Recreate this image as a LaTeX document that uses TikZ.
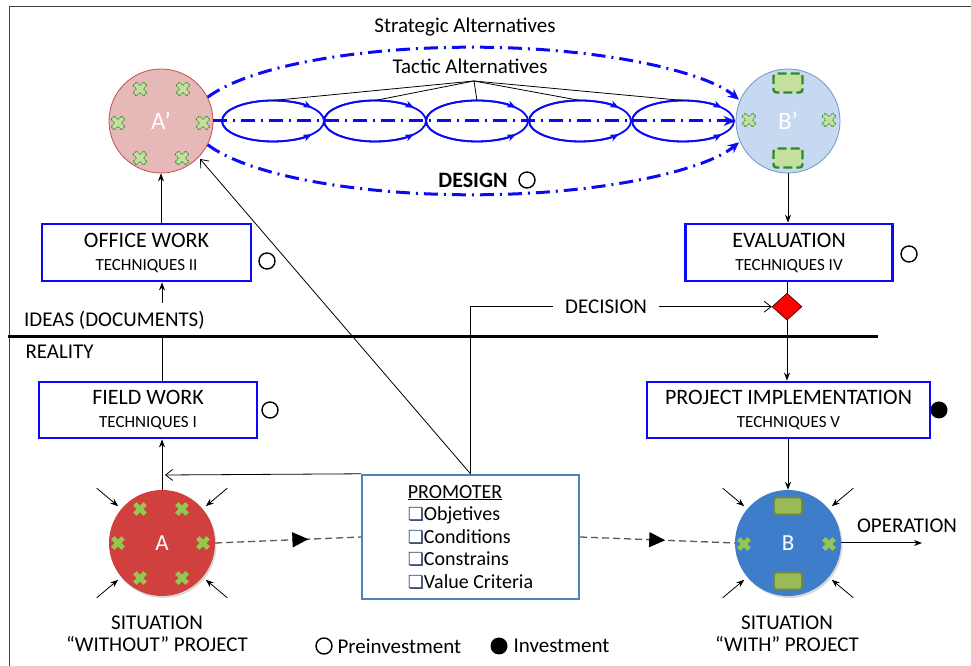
\documentclass[tikz,border=0pt]{standalone}
\usepackage{fontspec}
\setmainfont{Carlito}
\newfontfamily\symfont{DejaVu Sans}
\usetikzlibrary{arrows,arrows.meta,positioning,shapes.geometric,shadows,decorations.markings}

\definecolor{boxblue}{HTML}{0A0AF5}
\definecolor{promblue}{HTML}{4F81BD}
\definecolor{pinkfill}{HTML}{E6B9B8}
\definecolor{pinkline}{HTML}{C0504D}
\definecolor{skyfill}{HTML}{C6D9F1}
\definecolor{skyline}{HTML}{7096C8}
\definecolor{redfill}{HTML}{D0403E}
\definecolor{bluefill}{HTML}{3D7DCA}
\definecolor{leaf}{HTML}{92C850}
\definecolor{paleleaf}{HTML}{C4E09E}
\definecolor{darkleaf}{HTML}{2C8A2C}
\definecolor{olive}{HTML}{71893F}
\definecolor{oliveleaf}{HTML}{9BBB59}
\definecolor{navy}{HTML}{1F3864}
\definecolor{dashgray}{HTML}{595959}

\tikzstyle{techbox}=[draw=boxblue,line width=2.8pt,fill=white,align=center,inner sep=0pt,font=\fontsize{17}{23}\selectfont]
\tikzstyle{promoter}=[draw=promblue,line width=2.4pt,fill=white,align=left,inner sep=0pt,minimum width=217pt,minimum height=124pt,font=\fontsize{20}{22.5}\selectfont]
\tikzstyle{ideaA}=[circle,minimum size=104pt,inner sep=0pt,fill=pinkfill,draw=pinkline,line width=0.8pt,text=white,font=\fontsize{25}{25}\selectfont]
\tikzstyle{ideaB}=[circle,minimum size=104pt,inner sep=0pt,fill=skyfill,draw=skyline,line width=0.8pt,text=white,font=\fontsize{25}{25}\selectfont]
\tikzstyle{sitA}=[circle,minimum size=106pt,inner sep=0pt,fill=redfill,text=white,font=\fontsize{23}{23}\selectfont,drop shadow={opacity=0.3,shadow xshift=1.5pt,shadow yshift=-2pt}]
\tikzstyle{sitB}=[circle,minimum size=106pt,inner sep=0pt,fill=bluefill,text=white,font=\fontsize{23}{23}\selectfont,drop shadow={opacity=0.3,shadow xshift=1.5pt,shadow yshift=-2pt}]
\tikzstyle{tactic}=[ellipse,draw=boxblue,line width=1.8pt,minimum width=102pt,minimum height=41pt,inner sep=0pt,outer sep=0pt]
\tikzstyle{tacline}=[draw=boxblue,line width=1.8pt,-{Stealth[length=9pt,width=7pt]}]
\tikzstyle{stratline}=[draw=boxblue,line width=3pt,dash pattern=on 14pt off 6pt on 2pt off 6pt]
\tikzstyle{fanline}=[line width=0.8pt]
\tikzstyle{openarr}=[line width=0.8pt,-{Straight Barb[length=7pt,width=11pt]}]
\tikzstyle{dashline}=[draw=dashgray,line width=1.3pt,dash pattern=on 7pt off 4pt]
\tikzstyle{preinv}=[circle,draw,line width=1.4pt,minimum size=16pt,inner sep=0pt]
\tikzstyle{inv}=[circle,fill,minimum size=17pt,inner sep=0pt]
\tikzstyle{decision}=[diamond,fill=red,draw,line width=0.5pt,minimum width=30pt,minimum height=27pt,inner sep=0pt]
\tikzstyle{softx}=[fill=paleleaf,draw=darkleaf,line width=0.8pt,dash pattern=on 1.5pt off 1pt]
\tikzstyle{solidx}=[fill=leaf]
\tikzstyle{softbar}=[rectangle,rounded corners=3pt,fill=paleleaf,draw=darkleaf,line width=2.4pt,dash pattern=on 9pt off 4pt,minimum width=29pt,minimum height=19pt,inner sep=0pt]
\tikzstyle{solidbar}=[rectangle,rounded corners=3pt,fill=oliveleaf,draw=olive,line width=1.8pt,minimum width=28pt,minimum height=17pt,inner sep=0pt]
\tikzset{xmark/.pic={
  \path[pic actions,rotate=45] (-2.4,7.4) -- (2.4,7.4) -- (2.4,2.4) -- (7.4,2.4) -- (7.4,-2.4) -- (2.4,-2.4)
    -- (2.4,-7.4) -- (-2.4,-7.4) -- (-2.4,-2.4) -- (-7.4,-2.4) -- (-7.4,2.4) -- (-2.4,2.4) -- cycle;
}}
\tikzset{mid tri/.style={postaction={decorate},decoration={markings,
  mark=at position #1 with {\arrow[black]{Triangle[length=16pt,width=15pt]}}}}}

\newcommand{\chk}{{\symfont\fontsize{18}{18}\selectfont\color{navy}❏}}
\newcommand{\boxtext}[2]{{\fontsize{22}{23}\selectfont #1}\\{#2}}

\begin{document}
\begin{tikzpicture}[x=1pt,y=1pt,>={Stealth[length=8pt,width=6pt]},font=\fontsize{21}{22}\selectfont]
  \useasboundingbox (0,0) rectangle (971,666);
  \draw[black!75,line width=1pt] (9,0) -- (9,659) -- (971,659);

  % ideas (top)
  \node[ideaA] (Ap) at (161,545) {A’};
  \node[ideaB] (Bp) at (788,545) {B’};
  \foreach \s in {{(-21,32)},{(22,32)},{(-43,-2)},{(42,-2)},{(-21,-37)},{(21,-37)}}
    \pic[softx] at ([shift=\s]Ap) {xmark};
  \foreach \s in {{(-39,1)},{(41,1)}}
    \pic[softx] at ([shift=\s]Bp) {xmark};
  \node[softbar] (bpU) at ([yshift=38pt]Bp) {};
  \node[softbar] (bpD) at ([yshift=-37pt]Bp) {};

  % strategic and tactic alternatives
  \draw[stratline,-{Stealth[length=12pt,width=10pt]}] (Ap) -- (Bp);
  \draw[stratline,-{Stealth[length=11pt,width=10pt]}] (Ap.27) arc[start angle=160,end angle=18,x radius=281pt,y radius=76pt];
  \draw[stratline,-{Stealth[length=11pt,width=10pt]}] (Ap.-27) arc[start angle=200,end angle=342,x radius=281pt,y radius=76pt];
  \node (strat) at (465,639) {Strategic Alternatives};
  \node (tact) at (470,600) {Tactic Alternatives};
  \coordinate (fan) at (474,585);
  \foreach \i/\x in {1/273,2/375,3/477,4/580,5/683}{
    \node[tactic] (t\i) at (\x,545) {};
    \draw[tacline] (t\i.west) arc[start angle=180,end angle=40,x radius=51pt,y radius=20.5pt];
    \draw[tacline] (t\i.west) arc[start angle=180,end angle=320,x radius=51pt,y radius=20.5pt];
    \draw[fanline] (fan) -- (t\i.north);
  }
  \node[font=\fontsize{22}{22}\bfseries] (design) at (473,486) {DESIGN};
  \node[preinv] (preD) at (527,486) {};

  % techniques
  \node[techbox,minimum width=209pt,minimum height=57pt] (office) at (146.5,413.5) {\boxtext{OFFICE WORK}{TECHNIQUES II}};
  \node[techbox,minimum width=207pt,minimum height=57pt] (eval) at (789,413.4) {\boxtext{EVALUATION}{TECHNIQUES IV}};
  \node[techbox,minimum width=218pt,minimum height=56pt] (field) at (148,256) {\boxtext{FIELD WORK}{TECHNIQUES I}};
  \node[techbox,minimum width=283pt,minimum height=56pt] (impl) at (788.5,256) {\boxtext{PROJECT IMPLEMENTATION}{TECHNIQUES V}};
  \node[preinv] (preO) at (267,405) {};
  \node[preinv] (preE) at (909,412) {};
  \node[preinv] (preF) at (270,256) {};
  \node[inv] (invI) at (939,256) {};
  \node[decision] (dec) at (787,359.3) {};

  % situations (bottom)
  \node[sitA] (A) at (162,123) {A};
  \node[sitB] (B) at (788,123) {B};
  \foreach \s in {{(-22,34)},{(20,34)},{(-44,0)},{(41,0)},{(-22,-35)},{(20,-35)}}
    \pic[solidx] at ([shift=\s]A) {xmark};
  \foreach \s in {{(-44,-1)},{(41,-1)}}
    \pic[solidx] at ([shift=\s]B) {xmark};
  \node[solidbar] (bU) at ([yshift=37pt]B) {};
  \node[solidbar] (bD) at ([yshift=-38pt]B) {};
  \foreach \a in {40,140,220,320}{
    \draw[->,line width=0.8pt,shorten >=4pt] (A.\a) ++(\a:32pt) -- (A.\a);
    \draw[->,line width=0.8pt,shorten >=4pt] (B.\a) ++(\a:32pt) -- (B.\a);
  }
  \node[promoter] (prom) at (470.5,129) {\underline{PROMOTER}\\\chk Objetives\\\chk Conditions\\\chk Constrains\\\chk Value Criteria};

  % flows
  \draw[->,line width=0.8pt] (A.north) -- (A.north |- field.south);
  \draw[->,line width=0.8pt] (A.north |- field.north) -- (A.north |- office.south);
  \draw[->,line width=0.8pt] (Ap.south |- office.north) -- (Ap.south);
  \draw[->,line width=0.8pt] (Bp.south) -- (Bp.south |- eval.north);
  \draw[line width=0.8pt] (dec.north |- eval.south) -- (dec.north);
  \draw[->,line width=0.8pt] (dec.south) -- (dec.south |- impl.north);
  \draw[->,line width=0.8pt] (B.north |- impl.south) -- (B.north);
  \coordinate (opend) at (922,123);
  \draw[->,line width=1pt] (B.east) -- (opend);
  \node (oplbl) at (907,140) {OPERATION};

  \coordinate (fwjoin) at (165,191);
  \draw[openarr] (prom.north) |- node[pos=0.725,fill=white,inner xsep=12pt] (declbl) {DECISION} (dec.west);
  \draw[openarr,shorten >=2pt] (prom.north) -- (Ap.-44);
  \draw[openarr] (prom.north west) -- (fwjoin);
  \draw[dashline,mid tri=0.64] (A.east) -- (prom.west);
  \draw[dashline,mid tri=0.55] (prom.east) -- (B.west);

  % ideas / reality
  \node[anchor=west,fill=white,inner xsep=2pt,minimum height=34pt] (ideas) at (22,346) {IDEAS (DOCUMENTS)};
  \node[anchor=west] (reality) at (22,314) {REALITY};
  \draw[line width=3pt] (8,329) -- (878,329);

  % labels and legend
  \node[align=center] (sitAlbl) at (157,32) {SITUATION\\“WITHOUT” PROJECT};
  \node[align=center] (sitBlbl) at (787,32) {SITUATION\\“WITH” PROJECT};
  \node[preinv] (legP) at (324,20) {};
  \node[anchor=west] (legPt) at (334,20) {Preinvestment};
  \node[inv] (legI) at (499,20) {};
  \node[anchor=west] (legIt) at (510,20) {Investment};
\end{tikzpicture}
\end{document}
